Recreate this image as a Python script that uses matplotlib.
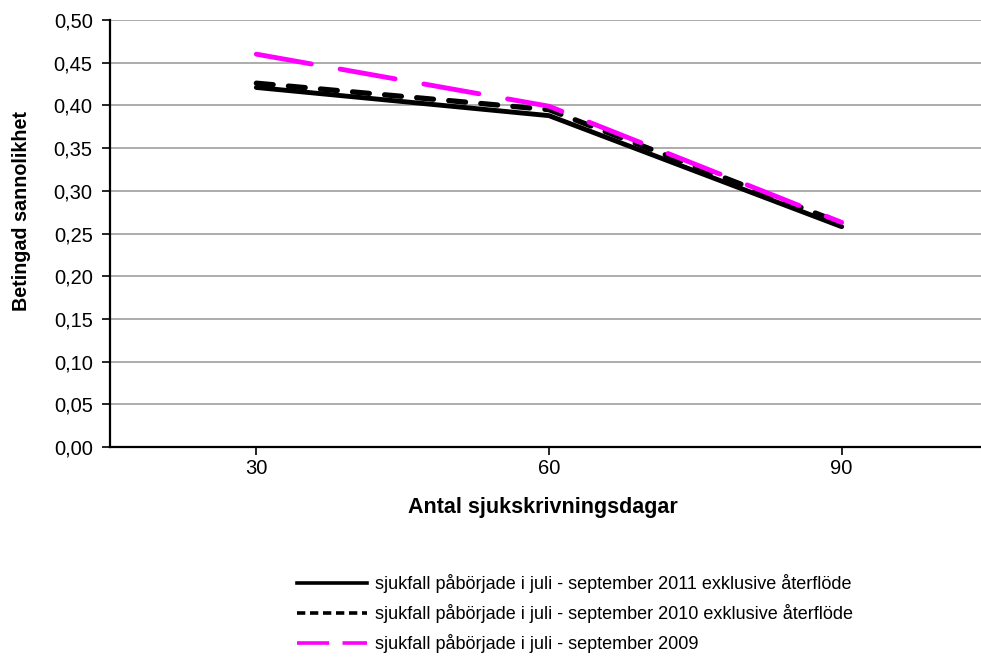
import matplotlib
matplotlib.use('Agg')
import matplotlib.pyplot as plt
from matplotlib.lines import Line2D

plt.rcParams['font.family'] = ['Liberation Sans', 'DejaVu Sans']

# antal sjukskrivningsdagar
days = ['30', '60', '90']

# betingad sannolikhet per kohort
p_2011 = [0.421, 0.388, 0.258]
p_2010 = [0.426, 0.395, 0.262]
p_2009 = [0.460, 0.399, 0.263]

labels = [
    'sjukfall påbörjade i juli - september 2011 exklusive återflöde',
    'sjukfall påbörjade i juli - september 2010 exklusive återflöde',
    'sjukfall påbörjade i juli - september 2009',
]

yticks = [i * 0.05 for i in range(11)]
ytick_labels = [f'{v:.2f}'.replace('.', ',') for v in yticks]

W, H = 981, 662
fig = plt.figure(figsize=(W / 100, H / 100), dpi=100)
# axes reaches slightly past the right edge of the figure
left, right, top, bottom = 110, 988, 20, 447
ax = fig.add_axes([left / W, 1 - bottom / H, (right - left) / W, (bottom - top) / H])

x = range(len(days))
ax.plot(x, p_2011, color='black', lw=3.5, solid_capstyle='round', zorder=3)
ax.plot(x, p_2010, color='black', lw=3.8, dashes=(3.2, 2.9), dash_capstyle='round', zorder=4)
ax.plot(x, p_2009, color='#ff00ff', lw=3.5, dashes=(11.5, 6.0), dash_capstyle='round', zorder=5)

ax.set_xlim(-0.5, len(days) - 0.5)
ax.set_ylim(0, 0.5)
ax.set_xticks(list(x))
ax.set_xticklabels(days)
ax.set_yticks(yticks)
ax.set_yticklabels(ytick_labels)
ax.tick_params(axis='both', labelsize=14.5, length=5.5, width=1.2, direction='out', color='black')
ax.tick_params(axis='x', pad=3)
ax.tick_params(axis='y', pad=7)

ax.grid(axis='y', color='#a6a6a6', lw=1.3)
ax.set_axisbelow(True)
for s in ('top', 'right'):
    ax.spines[s].set_visible(False)
for s in ('left', 'bottom'):
    ax.spines[s].set_linewidth(1.6)
    ax.spines[s].set_zorder(6)

fig.text(543 / W, 1 - 507 / H, 'Antal sjukskrivningsdagar', ha='center', va='center',
         fontsize=15.5, fontweight='bold')
fig.text(22 / W, 1 - 211 / H, 'Betingad sannolikhet', ha='center', va='center',
         rotation=90, fontsize=14.2, fontweight='bold')

# legend keys use a shorter dash rhythm than the plotted lines
handles = [
    Line2D([], [], color='black', lw=2.6),
    Line2D([], [], color='black', lw=2.6, dashes=(2.3, 1.3)),
    Line2D([], [], color='#ff00ff', lw=2.6, dashes=(8.9, 3.7)),
]
fig.legend(handles, labels, loc='upper left', bbox_to_anchor=(297 / W, 1 - 574 / H),
           frameon=False, fontsize=13, handlelength=3.9, handletextpad=0.44,
           labelspacing=0.62, borderpad=0, borderaxespad=0)

fig.savefig('out.png', dpi=100)
